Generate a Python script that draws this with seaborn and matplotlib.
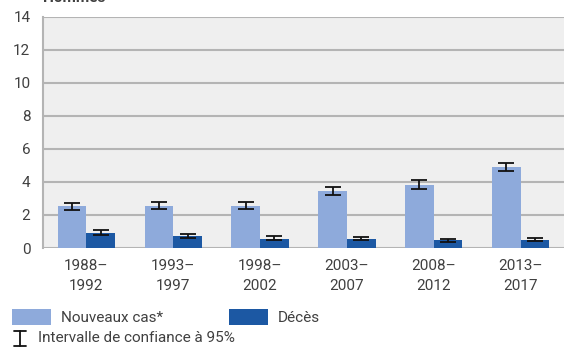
import matplotlib
matplotlib.use("Agg")
import matplotlib.pyplot as plt
from matplotlib.patches import Rectangle
from matplotlib.lines import Line2D
import seaborn as sns
import pandas as pd
import numpy as np

# Rates per period (men)
periods = ["1988–\n1992", "1993–\n1997", "1998–\n2002", "2003–\n2007", "2008–\n2012", "2013–\n2017"]
series = ["Nouveaux cas*", "Décès"]
new_cases = [2.51, 2.56, 2.55, 3.42, 3.84, 4.88]
new_cases_lo = [2.30, 2.36, 2.36, 3.20, 3.59, 4.63]
new_cases_hi = [2.73, 2.81, 2.80, 3.71, 4.11, 5.15]
deaths = [0.92, 0.70, 0.56, 0.56, 0.46, 0.50]
deaths_lo = [0.80, 0.58, 0.46, 0.46, 0.34, 0.42]
deaths_hi = [1.06, 0.86, 0.70, 0.66, 0.54, 0.62]
y_ticks = [0, 2, 4, 6, 8, 10, 12, 14]

light = "#8eaadb"
dark = "#1c58a3"
text_col = "#404040"

sns.set_theme(style="white")
plt.rcParams["font.family"] = ["Roboto", "DejaVu Sans"]

df = pd.DataFrame({
    "period": periods * 2,
    "series": [series[0]] * len(periods) + [series[1]] * len(periods),
    "value": new_cases + deaths,
})

W, H = 564, 349
fig = plt.figure(figsize=(W / 100, H / 100), dpi=100)
ax = fig.add_axes([43 / W, 1 - 248 / H, (W - 43) / W, (248 - 16.5) / H])
ax.set_facecolor("#efefef")

sns.barplot(data=df, x="period", y="value", hue="series", order=periods,
            hue_order=series, palette=[light, dark], width=0.66, gap=0,
            errorbar=None, saturation=1, legend=False, linewidth=0, ax=ax)

# confidence-interval whiskers on each bar
vals = [new_cases, deaths]
los = [new_cases_lo, deaths_lo]
his = [new_cases_hi, deaths_hi]
bars = ax.patches
for s in range(2):
    for i in range(len(periods)):
        b = bars[s * len(periods) + i]
        x = b.get_x() + b.get_width() / 2
        v = vals[s][i]
        ax.errorbar(x, v, yerr=[[v - los[s][i]], [his[s][i] - v]], fmt="none",
                    ecolor="#111111", elinewidth=1.3, capsize=5.5, capthick=1.3, zorder=5)

ax.set_ylim(0, 14)
ax.set_xlim(-0.5, 5.5)
ax.set_yticks(y_ticks)
ax.yaxis.grid(True, color="#b4b4b4", linewidth=1.5)
ax.set_axisbelow(True)
for sp in ["top", "right"]:
    ax.spines[sp].set_visible(False)
ax.spines["bottom"].set_visible(False)
ax.spines["left"].set_color("#b4b4b4")
ax.spines["left"].set_linewidth(1.5)
ax.set_xlabel("")
ax.set_ylabel("")
ax.tick_params(axis="y", length=6, color="#b4b4b4", width=1.5, labelsize=11,
               labelcolor=text_col, pad=3)
ax.tick_params(axis="x", length=0, labelsize=11, labelcolor=text_col, pad=8)
for lbl in ax.get_xticklabels():
    lbl.set_linespacing(1.5)

# panel title, mostly above the canvas
fig.text(43 / W, 1 - 2 / H, "Hommes", fontsize=11, fontweight="bold",
         color=text_col, va="baseline", ha="left")

# legend
def px(x, y):
    return x / W, 1 - y / H

for (x0, lab, col) in [(12, series[0], light), (229, series[1], dark)]:
    fig.add_artist(Rectangle(px(x0, 325), 39 / W, 16 / H, facecolor=col,
                             edgecolor="none", transform=fig.transFigure))
    fig.text(*px(x0 + 49, 317.5), lab, fontsize=11, color=text_col,
             va="center", ha="left")

cx = 20
for xs, ys in [((cx, cx), (331, 346)), ((cx - 6, cx + 6), (331, 331)),
               ((cx - 6, cx + 6), (346, 346))]:
    fig.add_artist(Line2D([x / W for x in xs], [1 - y / H for y in ys],
                          color="#111111", linewidth=1.3, transform=fig.transFigure))
fig.text(*px(38, 338.5), "Intervalle de confiance à 95%", fontsize=11,
         color=text_col, va="center", ha="left")

fig.savefig("out.png", dpi=100)
